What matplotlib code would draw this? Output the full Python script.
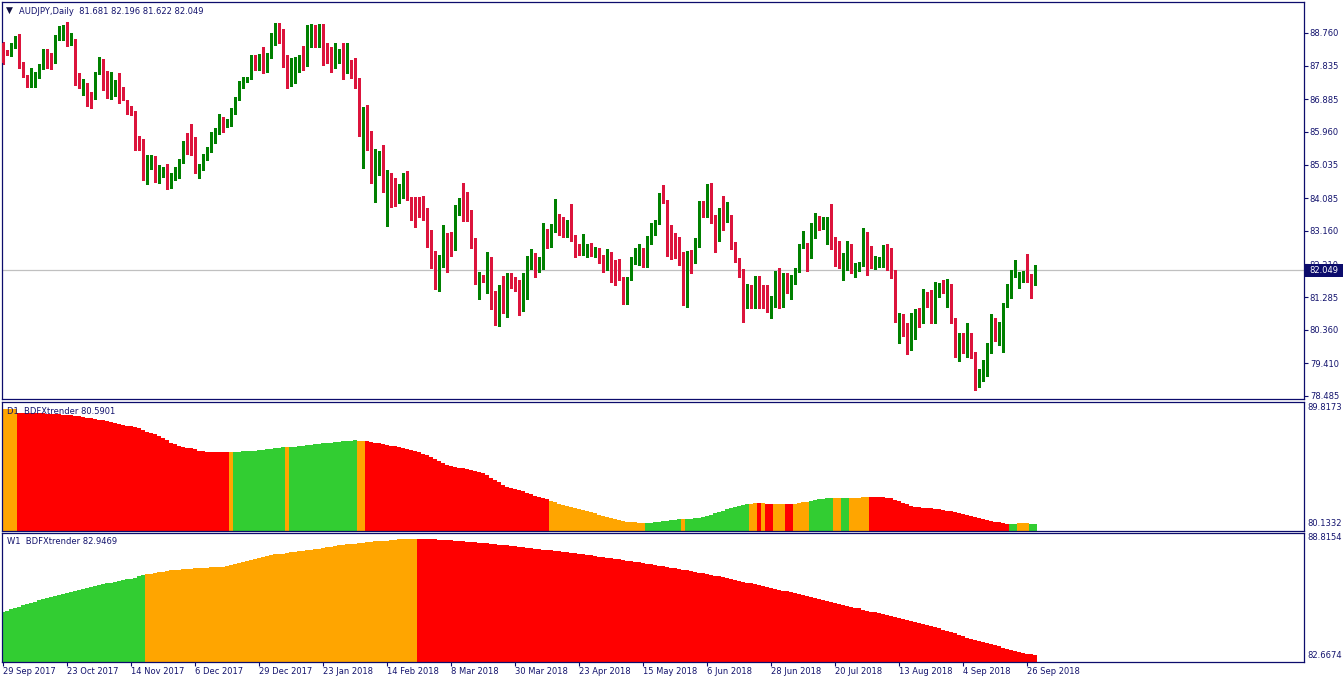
import matplotlib
matplotlib.use("Agg")
import matplotlib.pyplot as plt
import numpy as np
from matplotlib.patches import Rectangle

# ---------------- data ----------------
opens = [
    88.48, 88.22, 88.19, 88.36, 88.62, 87.91, 87.46, 87.29, 87.43, 87.51,
    87.77, 88.08, 88.05, 87.94, 88.59, 88.59, 89.01, 88.48, 88.56, 87.57,
    87.23, 87.29, 86.98, 86.95, 87.63, 87.97, 87.43, 87.15, 87.09, 87.37,
    87.09, 86.81, 86.58, 86.52, 85.76, 85.73, 84.80, 84.97, 85.16, 84.63,
    84.77, 84.91, 84.40, 84.63, 84.68, 85.11, 85.62, 85.62, 85.62, 84.91,
    84.91, 85.19, 85.45, 85.79, 85.93, 86.13, 86.13, 86.16, 86.49, 86.89,
    87.23, 87.43, 87.49, 88.02, 87.91, 88.33, 87.88, 88.14, 88.62, 88.96,
    88.65, 88.11, 87.34, 87.77, 87.77, 88.00, 87.88, 88.65, 88.82, 88.39,
    88.90, 88.19, 88.05, 87.80, 88.00, 88.14, 87.91, 87.91, 87.91, 87.17,
    85.87, 86.58, 85.48, 84.54, 85.02, 85.36, 84.68, 84.77, 84.29, 84.06,
    84.29, 84.57, 84.09, 83.72, 84.03, 83.95, 83.58, 82.76, 82.36, 81.82,
    82.42, 83.07, 82.96, 82.64, 83.64, 83.75, 83.72, 83.72, 82.90, 81.71,
    81.82, 81.80, 82.33, 80.97, 80.55, 81.63, 80.86, 81.80, 81.68, 81.65,
    81.12, 81.85, 82.36, 82.48, 82.08, 82.11, 83.15, 82.73, 83.15, 83.47,
    83.30, 83.01, 83.44, 82.96, 82.67, 82.62, 82.67, 82.76, 82.53, 82.62,
    82.31, 82.25, 82.28, 82.19, 82.28, 81.82, 81.29, 81.80, 82.33, 82.42,
    82.50, 82.42, 82.93, 83.13, 83.38, 84.15, 83.98, 83.18, 82.73, 82.96,
    82.53, 81.57, 82.45, 82.28, 82.73, 83.92, 83.58, 84.46, 83.58, 82.90,
    83.69, 83.49, 83.58, 82.70, 82.33, 82.05, 81.17, 81.29, 81.12, 81.71,
    81.34, 81.32, 80.86, 81.17, 81.85, 81.32, 81.63, 81.51, 81.68, 82.02,
    82.70, 82.76, 82.42, 83.30, 83.30, 83.24, 83.35, 83.47, 82.70, 82.67,
    82.14, 82.45, 82.73, 81.99, 82.05, 82.19, 83.01, 82.70, 82.14, 82.22,
    82.25, 82.64, 82.45, 81.88, 80.33, 80.47, 80.49, 80.13, 80.47, 80.89,
    80.72, 81.26, 81.23, 80.61, 81.51, 81.60, 81.57, 81.63, 80.58, 79.87,
    80.07, 79.87, 80.18, 79.70, 78.85, 79.02, 79.39, 79.73, 80.44, 80.07,
    80.21, 81.06, 81.48, 81.97, 81.57, 81.77, 81.88, 81.77, 81.681,
]
highs = [
    88.51, 88.28, 88.48, 88.68, 88.73, 87.94, 87.57, 87.77, 87.66, 87.88,
    88.31, 88.31, 88.19, 88.70, 88.96, 88.99, 89.07, 88.76, 88.59, 87.63,
    87.46, 87.34, 87.09, 87.66, 88.08, 88.02, 87.68, 87.66, 87.43, 87.63,
    87.23, 86.86, 86.69, 86.55, 85.84, 85.76, 85.31, 85.31, 85.28, 85.02,
    84.97, 85.05, 84.80, 84.97, 85.19, 85.70, 85.93, 86.18, 85.82, 85.05,
    85.33, 85.53, 85.96, 86.07, 86.47, 86.38, 86.33, 86.64, 86.95, 87.40,
    87.51, 87.51, 88.14, 88.14, 88.17, 88.36, 88.19, 88.76, 89.04, 89.04,
    88.87, 88.14, 88.05, 88.08, 88.14, 88.39, 88.99, 89.01, 88.99, 89.01,
    89.01, 88.48, 88.36, 88.48, 88.31, 88.48, 88.48, 88.00, 88.05, 87.49,
    86.67, 86.72, 85.99, 85.48, 85.42, 85.59, 84.88, 84.80, 84.65, 84.49,
    84.80, 84.85, 84.12, 84.12, 84.12, 84.15, 83.81, 83.18, 82.59, 82.48,
    83.32, 83.10, 83.13, 83.89, 84.09, 84.51, 84.26, 83.75, 82.96, 81.99,
    81.91, 82.56, 82.42, 81.46, 81.63, 81.88, 81.96, 81.96, 81.85, 81.77,
    81.96, 82.45, 82.64, 82.53, 82.42, 83.38, 83.21, 83.35, 84.06, 83.64,
    83.55, 83.47, 83.92, 83.04, 82.79, 83.07, 82.79, 82.82, 82.70, 82.67,
    82.48, 82.64, 82.56, 82.33, 82.36, 81.85, 81.85, 82.42, 82.67, 82.79,
    82.67, 83.01, 83.38, 83.47, 84.23, 84.46, 84.03, 83.32, 83.10, 82.98,
    82.56, 82.59, 82.62, 82.96, 84.00, 84.00, 84.49, 84.51, 83.61, 83.81,
    84.15, 83.98, 83.61, 82.84, 82.39, 82.08, 81.65, 81.63, 81.88, 81.88,
    81.63, 81.63, 81.32, 82.02, 82.11, 81.96, 81.96, 81.91, 82.11, 82.79,
    83.15, 82.82, 83.38, 83.66, 83.58, 83.55, 83.55, 83.92, 82.98, 82.87,
    82.53, 82.87, 82.79, 82.25, 82.28, 83.24, 83.13, 82.73, 82.45, 82.42,
    82.76, 82.79, 82.67, 82.05, 80.83, 80.80, 80.55, 80.83, 80.95, 80.97,
    81.51, 81.43, 81.48, 81.71, 81.68, 81.77, 81.80, 81.65, 80.69, 80.27,
    80.27, 80.55, 80.27, 79.73, 79.25, 79.50, 79.98, 80.80, 80.69, 80.58,
    81.12, 81.65, 82.05, 82.33, 81.99, 82.02, 82.50, 81.94, 82.196,
]
lows = [
    87.89, 88.14, 88.11, 88.34, 87.77, 87.51, 87.23, 87.23, 87.23, 87.49,
    87.74, 87.77, 87.74, 87.91, 88.56, 88.56, 88.39, 88.42, 87.29, 87.20,
    87.00, 86.69, 86.64, 86.89, 87.60, 87.15, 86.92, 86.89, 86.98, 86.78,
    86.86, 86.47, 86.44, 85.45, 85.45, 84.60, 84.48, 84.91, 84.54, 84.51,
    84.68, 84.34, 84.37, 84.60, 84.66, 85.08, 85.33, 85.31, 84.80, 84.66,
    84.88, 85.16, 85.39, 85.65, 85.90, 85.96, 86.10, 86.13, 86.47, 86.86,
    87.20, 87.37, 87.46, 87.71, 87.71, 87.63, 87.66, 88.05, 88.42, 88.48,
    87.80, 87.20, 87.26, 87.34, 87.66, 87.71, 87.83, 88.36, 88.36, 88.36,
    87.85, 87.91, 87.66, 87.77, 87.91, 87.46, 87.63, 87.49, 87.20, 85.84,
    84.94, 85.45, 84.51, 83.98, 84.74, 84.26, 83.30, 83.84, 83.86, 83.95,
    84.09, 84.03, 83.47, 83.27, 83.55, 83.47, 82.70, 82.11, 81.51, 81.46,
    82.13, 81.99, 82.45, 82.62, 83.61, 83.44, 83.44, 82.67, 81.65, 81.23,
    81.71, 81.40, 80.95, 80.49, 80.47, 80.83, 80.72, 81.54, 81.46, 80.78,
    80.89, 81.23, 82.08, 81.85, 81.99, 82.08, 82.67, 82.70, 83.13, 83.04,
    82.98, 82.98, 82.87, 82.42, 82.48, 82.48, 82.42, 82.45, 82.42, 82.25,
    81.99, 82.05, 81.71, 81.63, 81.77, 81.09, 81.09, 81.77, 82.22, 82.19,
    82.14, 82.14, 82.79, 83.04, 83.35, 83.95, 82.45, 82.36, 82.39, 82.19,
    81.06, 81.00, 81.97, 82.25, 82.70, 83.55, 83.55, 83.38, 82.56, 82.87,
    83.18, 83.41, 82.65, 82.28, 81.85, 80.58, 80.98, 80.97, 80.97, 80.97,
    80.97, 80.86, 80.69, 81.00, 80.97, 81.00, 81.40, 81.23, 81.65, 81.99,
    82.67, 82.02, 82.40, 82.96, 83.18, 83.21, 82.79, 82.65, 82.16, 82.11,
    81.77, 82.05, 81.97, 81.85, 82.02, 82.16, 81.91, 82.11, 82.08, 82.14,
    82.14, 82.05, 81.82, 80.58, 79.99, 80.18, 79.67, 79.79, 80.10, 80.44,
    80.55, 81.00, 80.55, 80.55, 81.29, 81.40, 81.00, 80.55, 79.59, 79.47,
    79.70, 79.59, 79.56, 78.65, 78.74, 78.91, 79.05, 79.70, 80.04, 79.93,
    79.73, 81.00, 81.26, 81.85, 81.55, 81.71, 81.71, 81.26, 81.622,
]
closes = [
    87.91, 88.19, 88.39, 88.62, 87.91, 87.54, 87.34, 87.43, 87.57, 87.77,
    88.22, 88.02, 87.94, 88.62, 88.62, 88.68, 88.51, 88.51, 87.57, 87.23,
    87.26, 86.95, 86.95, 87.63, 87.97, 87.17, 87.15, 87.37, 87.37, 87.06,
    86.89, 86.55, 86.52, 85.62, 85.65, 84.80, 84.99, 85.16, 84.63, 84.80,
    84.85, 84.43, 84.63, 84.68, 85.11, 85.36, 85.36, 85.36, 84.91, 84.94,
    85.19, 85.45, 85.79, 85.93, 86.13, 86.04, 86.21, 86.49, 86.89, 87.23,
    87.37, 87.49, 88.02, 87.91, 87.97, 87.85, 88.14, 88.62, 88.87, 88.65,
    88.08, 87.34, 87.77, 87.88, 88.00, 87.85, 88.65, 88.85, 88.56, 88.90,
    88.19, 87.94, 87.74, 88.05, 88.19, 87.91, 87.94, 87.88, 87.23, 85.87,
    86.58, 85.48, 84.54, 85.02, 85.39, 84.68, 84.77, 84.26, 84.09, 84.32,
    84.57, 84.09, 83.69, 83.69, 83.92, 83.55, 82.73, 82.33, 82.02, 82.45,
    83.07, 82.93, 82.67, 83.81, 83.75, 83.72, 83.69, 82.87, 81.71, 81.85,
    81.80, 82.33, 80.97, 80.58, 81.63, 80.86, 81.80, 81.68, 81.57, 81.12,
    81.88, 82.36, 82.48, 82.08, 82.14, 83.15, 82.73, 83.18, 83.30, 83.27,
    83.01, 83.44, 82.93, 82.53, 82.62, 82.73, 82.76, 82.53, 82.67, 82.28,
    82.28, 82.28, 82.19, 82.14, 81.94, 81.29, 81.82, 82.39, 82.48, 82.50,
    82.42, 82.96, 83.18, 83.18, 84.15, 83.95, 83.18, 82.70, 82.56, 82.25,
    81.57, 82.45, 82.31, 82.87, 83.92, 83.58, 84.46, 83.58, 83.15, 83.72,
    83.49, 83.61, 82.67, 82.31, 82.05, 81.17, 81.29, 81.06, 81.77, 81.32,
    81.29, 80.89, 81.20, 81.97, 81.17, 81.65, 81.48, 81.68, 82.05, 82.73,
    82.79, 82.48, 83.35, 83.38, 83.21, 83.38, 83.47, 82.67, 82.62, 82.14,
    82.48, 82.73, 81.99, 82.19, 82.22, 83.04, 82.42, 82.14, 82.31, 82.28,
    82.64, 82.42, 81.85, 80.86, 80.47, 80.41, 80.13, 80.49, 80.83, 80.72,
    81.26, 81.20, 80.61, 81.51, 81.63, 81.57, 81.63, 80.58, 79.90, 80.07,
    79.87, 80.21, 79.64, 78.85, 79.02, 79.42, 79.76, 80.41, 80.10, 80.24,
    81.12, 81.54, 81.99, 82.02, 81.77, 81.88, 81.74, 81.68, 82.049,
]

d1_values = [
    89.36, 89.36, 89.36, 89.34, 89.08, 89.07, 89.06, 89.06, 89.05, 89.04,
    89.03, 89.01, 89.00, 88.98, 88.96, 88.93, 88.90, 88.87, 88.83, 88.79,
    88.75, 88.71, 88.66, 88.60, 88.55, 88.50, 88.44, 88.37, 88.31, 88.24,
    88.17, 88.10, 88.03, 87.97, 87.89, 87.75, 87.63, 87.53, 87.42, 87.28,
    87.13, 86.96, 86.80, 86.66, 86.56, 86.48, 86.42, 86.36, 86.28, 86.19,
    86.13, 86.09, 86.08, 86.08, 86.08, 86.08, 86.08, 86.08, 86.09, 86.10,
    86.12, 86.13, 86.15, 86.18, 86.21, 86.25, 86.30, 86.34, 86.38, 86.42,
    86.45, 86.46, 86.47, 86.48, 86.51, 86.55, 86.59, 86.63, 86.67, 86.70,
    86.73, 86.76, 86.80, 86.83, 86.86, 86.89, 86.92, 86.95, 86.99, 86.93,
    86.92, 86.90, 86.86, 86.80, 86.74, 86.68, 86.62, 86.55, 86.50, 86.45,
    86.40, 86.33, 86.25, 86.15, 86.05, 85.96, 85.85, 85.73, 85.58, 85.42,
    85.25, 85.12, 85.02, 84.95, 84.89, 84.84, 84.78, 84.72, 84.64, 84.55,
    84.46, 84.30, 84.13, 83.95, 83.76, 83.56, 83.42, 83.32, 83.24, 83.16,
    83.07, 82.97, 82.86, 82.76, 82.66, 82.56, 82.47, 82.34, 82.25, 82.15,
    82.05, 81.96, 81.88, 81.81, 81.73, 81.66, 81.58, 81.49, 81.40, 81.31,
    81.22, 81.15, 81.07, 80.99, 80.92, 80.84, 80.78, 80.74, 80.71, 80.70,
    80.69, 80.69, 80.69, 80.72, 80.76, 80.80, 80.84, 80.88, 80.93, 80.97,
    80.97, 80.98, 81.00, 81.03, 81.08, 81.14, 81.21, 81.30, 81.40, 81.50,
    81.62, 81.73, 81.82, 81.90, 81.97, 82.03, 82.08, 82.14, 82.17, 82.19,
    82.19, 82.15, 82.12, 82.12, 82.12, 82.12, 82.12, 82.12, 82.14, 82.20,
    82.25, 82.29, 82.34, 82.40, 82.46, 82.52, 82.55, 82.57, 82.57, 82.57,
    82.57, 82.57, 82.57, 82.59, 82.61, 82.63, 82.65, 82.65, 82.65, 82.65,
    82.63, 82.59, 82.55, 82.45, 82.34, 82.22, 82.10, 81.99, 81.92, 81.88,
    81.84, 81.81, 81.79, 81.76, 81.72, 81.67, 81.62, 81.58, 81.52, 81.43,
    81.35, 81.26, 81.18, 81.14, 81.06, 80.98, 80.90, 80.83, 80.78, 80.73,
    80.66, 80.60, 80.61, 80.61, 80.64, 80.64, 80.64, 80.59, 80.59,
]
# colour runs of the D1 histogram: (state, number of bars)
d1_runs = [
    ("flat", 4), ("down", 53), ("flat", 1), ("up", 13), ("flat", 1), ("up", 17),
    ("flat", 2), ("down", 46), ("flat", 24), ("up", 9), ("flat", 1), ("up", 16),
    ("flat", 2), ("down", 1), ("flat", 1), ("down", 2), ("flat", 3), ("down", 2),
    ("flat", 4), ("up", 6), ("flat", 2), ("up", 2), ("flat", 5), ("down", 35),
    ("up", 2), ("flat", 3), ("up", 2),
]

w1_values = [
    85.05, 85.11, 85.17, 85.23, 85.29, 85.36, 85.42, 85.48, 85.54, 85.60,
    85.65, 85.71, 85.76, 85.82, 85.87, 85.92, 85.97, 86.02, 86.07, 86.12,
    86.16, 86.21, 86.25, 86.30, 86.34, 86.38, 86.42, 86.46, 86.50, 86.54,
    86.58, 86.62, 86.66, 86.70, 86.76, 86.83, 86.86, 86.90, 86.93, 86.96,
    86.99, 87.02, 87.05, 87.07, 87.09, 87.11, 87.13, 87.14, 87.16, 87.17,
    87.18, 87.19, 87.20, 87.21, 87.22, 87.23, 87.27, 87.31, 87.36, 87.41,
    87.45, 87.50, 87.55, 87.59, 87.65, 87.70, 87.76, 87.80, 87.83, 87.85,
    87.87, 87.89, 87.92, 87.94, 87.97, 87.99, 88.02, 88.05, 88.08, 88.11,
    88.14, 88.17, 88.20, 88.23, 88.26, 88.28, 88.31, 88.33, 88.35, 88.38,
    88.40, 88.42, 88.44, 88.46, 88.47, 88.49, 88.50, 88.52, 88.53, 88.55,
    88.56, 88.56, 88.57, 88.57, 88.57, 88.57, 88.56, 88.56, 88.55, 88.54,
    88.53, 88.52, 88.51, 88.49, 88.48, 88.47, 88.45, 88.44, 88.42, 88.40,
    88.38, 88.36, 88.34, 88.32, 88.30, 88.28, 88.26, 88.24, 88.22, 88.20,
    88.17, 88.15, 88.13, 88.11, 88.08, 88.06, 88.04, 88.02, 87.99, 87.97,
    87.95, 87.93, 87.91, 87.88, 87.86, 87.83, 87.80, 87.78, 87.75, 87.72,
    87.70, 87.67, 87.64, 87.61, 87.59, 87.56, 87.53, 87.50, 87.47, 87.44,
    87.41, 87.38, 87.35, 87.31, 87.28, 87.25, 87.22, 87.18, 87.15, 87.12,
    87.09, 87.05, 87.02, 86.99, 86.95, 86.92, 86.88, 86.84, 86.80, 86.76,
    86.72, 86.68, 86.63, 86.59, 86.55, 86.51, 86.46, 86.42, 86.38, 86.34,
    86.29, 86.25, 86.20, 86.16, 86.12, 86.08, 86.04, 86.00, 85.96, 85.91,
    85.87, 85.82, 85.77, 85.72, 85.67, 85.62, 85.57, 85.52, 85.48, 85.43,
    85.39, 85.34, 85.30, 85.25, 85.21, 85.16, 85.11, 85.06, 85.02, 84.98,
    84.93, 84.89, 84.85, 84.80, 84.76, 84.71, 84.67, 84.62, 84.57, 84.52,
    84.46, 84.41, 84.36, 84.30, 84.25, 84.19, 84.13, 84.06, 84.00, 83.93,
    83.87, 83.80, 83.74, 83.69, 83.64, 83.59, 83.54, 83.49, 83.43, 83.38,
    83.32, 83.27, 83.22, 83.17, 83.12, 83.07, 83.03, 82.99, 82.95,
]
w1_runs = [("up", 36), ("flat", 68), ("down", 155)]

price_ticks = [88.760, 87.835, 86.885, 85.960, 85.035, 84.085, 83.160,
               82.210, 81.285, 80.360, 79.410, 78.485]
d1_scale = [89.8173, 80.1332]
w1_scale = [88.8154, 82.6674]
date_labels = ["29 Sep 2017", "23 Oct 2017", "14 Nov 2017", "6 Dec 2017",
               "29 Dec 2017", "23 Jan 2018", "14 Feb 2018", "8 Mar 2018",
               "30 Mar 2018", "23 Apr 2018", "15 May 2018", "6 Jun 2018",
               "28 Jun 2018", "20 Jul 2018", "13 Aug 2018", "4 Sep 2018",
               "26 Sep 2018"]
date_every = 16

# ---------------- drawing ----------------
n = len(closes)
for name, arr in [("opens", opens), ("highs", highs), ("lows", lows),
                  ("d1", d1_values), ("w1", w1_values)]:
    if len(arr) != n:
        raise ValueError(f"{name} has {len(arr)} entries, expected {n}")

W, H = 1344, 682
fig = plt.figure(figsize=(W / 100, H / 100), dpi=100)
fig.patch.set_facecolor("white")
FONT = "DejaVu Sans"
FS = 6
NAVY = "#0c0c6c"
TXT = "#14146e"
STATE_COL = {"up": "#32CD32", "flat": "#FFA500", "down": "#FF0000"}


def ax_px(l, t, r, b):
    return fig.add_axes([l / W, 1 - b / H, (r - l) / W, (b - t) / H])


def ftext(x, y, s, **kw):
    kw.setdefault("fontsize", FS)
    kw.setdefault("family", FONT)
    kw.setdefault("color", TXT)
    return fig.text(x / W, 1 - y / H, s, **kw)


L, R = 2, 1304
x0_px, step_px = 3.3, 4.0
xlim = ((L - x0_px) / step_px, (R - x0_px) / step_px)

ax = ax_px(L, 2, R, 399)
ax1 = ax_px(L, 402, R, 531)
ax2 = ax_px(L, 533, R, 662)

for a in (ax, ax1, ax2):
    a.set_xlim(*xlim)
    a.set_facecolor("white")
    for sp in a.spines.values():
        sp.set_color(NAVY)
        sp.set_linewidth(0.9)
    a.set_xticks([])
    a.set_yticks([])

x = np.arange(n)
o = np.array(opens); h = np.array(highs); lo = np.array(lows); c = np.array(closes)
h = np.maximum(h, np.maximum(o, c))
lo = np.minimum(lo, np.minimum(o, c))
up = c >= o
cols = np.where(up, "#008000", "#DC143C")

# main price panel
ax.set_ylim(78.398, 89.637)
ax.axhline(c[-1], color="#C0C0C0", lw=0.9, zorder=0.5)
ax.vlines(x, lo, h, colors=cols, linewidth=0.75, antialiased=False, zorder=2)
body_bottom = np.minimum(o, c)
body_height = np.maximum(np.abs(c - o), 0.03)
ax.bar(x, body_height, bottom=body_bottom, width=0.66, color=cols,
       linewidth=0, antialiased=False, zorder=3)

ax.yaxis.tick_right()
ax.set_yticks(price_ticks)
ax.set_yticklabels([f"{v:.3f}" for v in price_ticks])
ax.tick_params(axis="y", direction="out", length=3, width=0.8, color=NAVY,
               labelsize=FS, labelcolor=TXT, pad=1.2)
for t in ax.get_yticklabels():
    t.set_family(FONT)

# D1 panel
d1_cols = [STATE_COL[s] for s, k in d1_runs for _ in range(k)]
d1_lo, d1_hi = 80.057, 89.893
ax1.set_ylim(d1_lo, d1_hi)
ax1.bar(x, np.array(d1_values) - d1_lo, bottom=d1_lo, width=1.0,
        color=d1_cols, linewidth=0, antialiased=False)

# W1 panel
w1_cols = [STATE_COL[s] for s, k in w1_runs for _ in range(k)]
w1_lo, w1_hi = 82.619, 88.864
ax2.set_ylim(w1_lo, w1_hi)
ax2.bar(x, np.array(w1_values) - w1_lo, bottom=w1_lo, width=1.0,
        color=w1_cols, linewidth=0, antialiased=False)

tick_bars = np.arange(0, n, date_every)[:len(date_labels)]
ax2.set_xticks(tick_bars)
ax2.set_xticklabels([])
ax2.tick_params(axis="x", direction="out", length=3, width=0.8, color=NAVY)

for i, lab in zip(tick_bars, date_labels):
    ftext(x0_px + step_px * i - 0.5, 672, lab, ha="left", va="center")

# titles / labels
ftext(5.5, 10.5, "\u25BC", fontsize=6.5, color="#101040", ha="left", va="center")
ftext(19, 11, "AUDJPY,Daily  %.3f %.3f %.3f %.3f" % (o[-1], h[-1], lo[-1], c[-1]),
      ha="left", va="center")
ftext(7, 411, "D1  BDFXtrender %.4f" % 80.5901, ha="left", va="center")
ftext(7, 542, "W1  BDFXtrender %.4f" % 82.9469, ha="left", va="center")

ftext(1307, 408, f"{d1_scale[0]:.4f}", ha="left", va="center")
ftext(1307, 524, f"{d1_scale[1]:.4f}", ha="left", va="center")
ftext(1307, 537, f"{w1_scale[0]:.4f}", ha="left", va="center")
ftext(1307, 655, f"{w1_scale[1]:.4f}", ha="left", va="center")

# current price box (covers part of the 82.210 label, as in the original)
box = Rectangle((1305 / W, 1 - 277 / H), 38 / W, 13 / H, transform=fig.transFigure,
                facecolor="#0c0c6c", edgecolor="none", zorder=5)
fig.add_artist(box)
ftext(1324, 270.5, f"{c[-1]:.3f}", ha="center", va="center", color="white",
      zorder=6)

fig.savefig("out.png", dpi=100, facecolor="white")
